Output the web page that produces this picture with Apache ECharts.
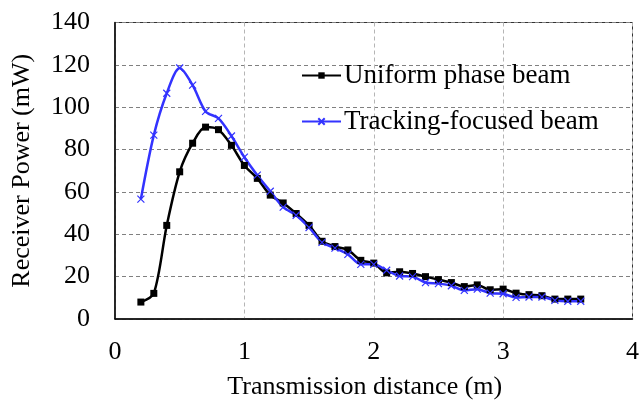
<!DOCTYPE html>
<html>
<head>
<meta charset="utf-8">
<script src="https://cdn.jsdelivr.net/npm/echarts@6/dist/echarts.min.js"></script>
<style>
  html, body { margin: 0; padding: 0; background: #fff; }
  #chart { width: 642px; height: 405px; }
</style>
</head>
<body>
<div id="chart"></div>
<script>
  var distance = [0.2, 0.3, 0.4, 0.5, 0.6, 0.7, 0.8, 0.9, 1.0, 1.1, 1.2,
    1.3, 1.4, 1.5, 1.6, 1.7, 1.8, 1.9, 2.0, 2.1, 2.2, 2.3, 2.4, 2.5, 2.6,
    2.7, 2.8, 2.9, 3.0, 3.1, 3.2, 3.3, 3.4, 3.5, 3.6];
  var uniformPower = [8.0, 12.1, 44.2, 69.5, 83.0, 90.6, 89.4, 82.0, 72.5, 66.4, 58.5,
    54.8, 49.8, 44.2, 36.7, 34.2, 32.6, 27.7, 26.4, 21.8, 22.3, 21.5, 20.0, 18.6, 17.2,
    15.3, 16.1, 13.8, 14.1, 12.2, 11.5, 11.0, 9.4, 9.4, 9.4];
  var trackingPower = [56.6, 86.8, 106.6, 118.5, 110.4, 98.0, 94.7, 86.4, 76.4, 67.9, 60.3,
    52.8, 49.0, 43.2, 36.2, 33.5, 30.5, 25.8, 25.8, 23.0, 20.3, 20.0, 17.2, 16.7, 15.7,
    13.5, 14.1, 12.2, 11.9, 10.2, 10.4, 10.4, 8.8, 8.4, 8.4];
  var seriesNames = ['Uniform phase beam', 'Tracking-focused beam'];

  function pairs(xs, ys) {
    return xs.map(function(x, i) { return [x, ys[i]]; });
  }

  var font = 'Liberation Serif';
  var chart = echarts.init(document.getElementById('chart'));

  chart.setOption({
    backgroundColor: '#fff',
    animation: false,
    grid: {
      left: 115, right: 4, top: 22.5, bottom: 81.5,
      show: true, borderColor: '#333', borderWidth: 1
    },
    legend: {
      orient: 'vertical',
      left: 301, top: 62, padding: 0,
      itemWidth: 39, itemHeight: 8, itemGap: 19,
      textStyle: { fontFamily: font, fontSize: 27, color: '#000', padding: [0, 0, 0, -2] },
      data: seriesNames
    },
    xAxis: {
      type: 'value', min: 0, max: 4, interval: 1,
      name: 'Transmission distance (m)',
      nameLocation: 'middle', nameGap: 55,
      nameTextStyle: { fontFamily: font, fontSize: 26, color: '#000', padding: [0, 18, 0, 0] },
      axisLine: { lineStyle: { color: '#000', width: 1.5 } },
      axisTick: { show: false },
      axisLabel: { fontFamily: font, fontSize: 26, color: '#000', margin: 20 },
      splitLine: { lineStyle: { color: '#b5b5b5', type: [4, 3], width: 1 } }
    },
    yAxis: {
      type: 'value', min: 0, max: 140, interval: 20,
      name: 'Receiver Power (mW)',
      nameLocation: 'middle', nameGap: 80,
      nameTextStyle: { fontFamily: font, fontSize: 26, color: '#000' },
      axisLine: { lineStyle: { color: '#000', width: 1.5 } },
      axisTick: { show: false },
      axisLabel: { fontFamily: font, fontSize: 26, color: '#000', margin: 25 },
      splitLine: { lineStyle: { color: '#808080', type: [4, 3], width: 1 } }
    },
    series: [
      {
        name: seriesNames[0],
        type: 'line',
        data: pairs(distance, uniformPower),
        smooth: 0.3,
        symbol: 'rect', symbolSize: 7,
        lineStyle: { color: '#000', width: 2.5 },
        itemStyle: { color: '#000' }
      },
      {
        name: seriesNames[1],
        type: 'line',
        data: pairs(distance, trackingPower),
        smooth: 0.3,
        symbol: 'path://M0,0L10,10M10,0L0,10', symbolSize: 7,
        lineStyle: { color: '#3333ff', width: 2.5 },
        itemStyle: { color: '#3333ff', borderColor: '#3333ff', borderWidth: 1.2 }
      }
    ]
  });
</script>
</body>
</html>
